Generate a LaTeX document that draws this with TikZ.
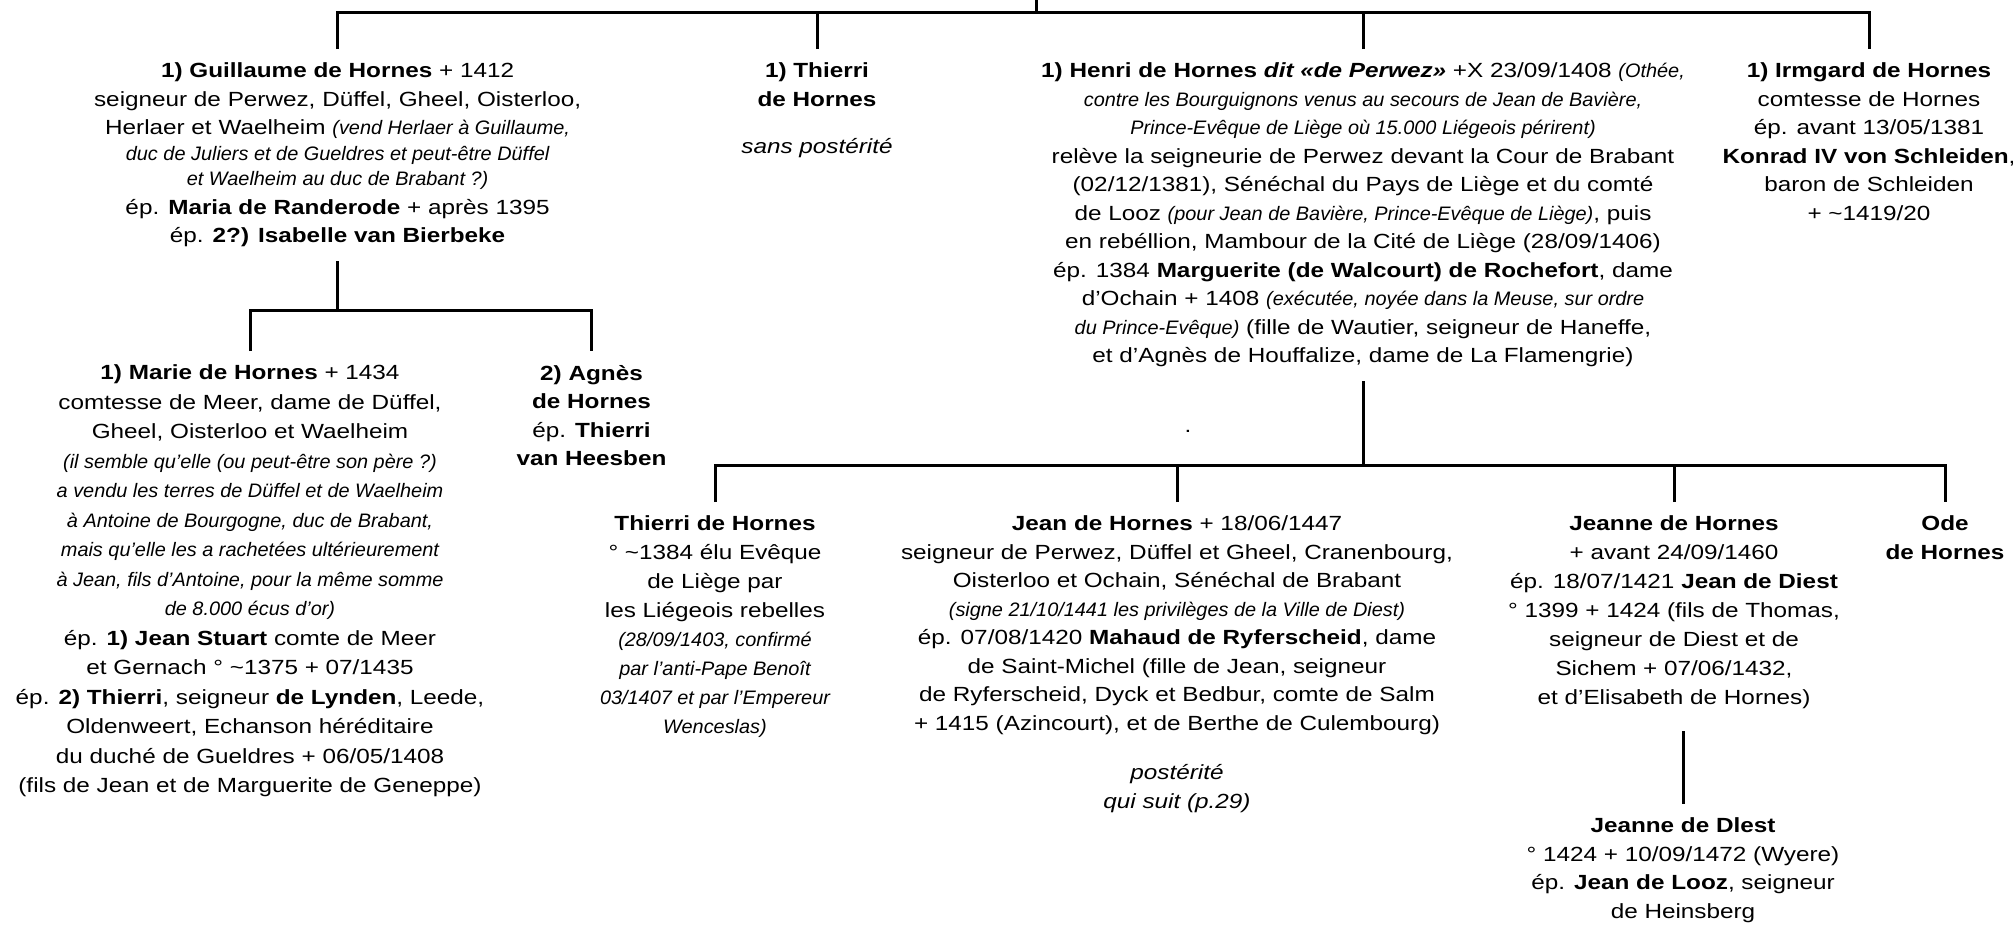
\documentclass[tikz,border=0pt]{standalone}
\usepackage{fontspec}
\setmainfont{Liberation Sans}[FakeStretch=1.185]
\newfontfamily\itfam{Liberation Sans}[FakeStretch=1.02]
\newcommand\smi[1]{{\itfam\fontsize{19.5}{28.5}\selectfont\itshape #1}}
\begin{document}
\begin{tikzpicture}[x=1pt,y=-1pt,
  person/.style={anchor=north, align=center, inner sep=0pt, outer xsep=0pt, outer ysep=14pt,
    font=\fontsize{20.5}{28.5}\selectfont},
  link/.style={line width=3pt}]
\useasboundingbox (0,0) rectangle (2013,924);

\node[person] (g) at (337.6,49) {\textbf{1) Guillaume de Hornes} + 1412\\
seigneur de Perwez, Düffel, Gheel, Oisterloo,\\
Herlaer et Waelheim \smi{(vend Herlaer à Guillaume,}\\[-3pt]
\smi{duc de Juliers et de Gueldres et peut-être Düffel}\\[-3pt]
\smi{et Waelheim au duc de Brabant ?)}\\
ép. \textbf{Maria de Randerode} + après 1395\\
ép. \textbf{2?) Isabelle van Bierbeke}};

\node[person] (t1) at (817,49) {\textbf{1) Thierri}\\
\textbf{de Hornes}\\[19pt]
\textit{sans postérité}};

\node[person] (h) at (1363,49) {\textbf{1) Henri de Hornes \textit{dit «de Perwez»}} +X 23/09/1408 \smi{(Othée,}\\
\smi{contre les Bourguignons venus au secours de Jean de Bavière,}\\
\smi{Prince-Evêque de Liège où 15.000 Liégeois périrent)}\\
relève la seigneurie de Perwez devant la Cour de Brabant\\
(02/12/1381), Sénéchal du Pays de Liège et du comté\\
de Looz \smi{(pour Jean de Bavière, Prince-Evêque de Liège)}, puis\\
en rebéllion, Mambour de la Cité de Liège (28/09/1406)\\
ép. 1384 \textbf{Marguerite (de Walcourt) de Rochefort}, dame\\
d’Ochain + 1408 \smi{(exécutée, noyée dans la Meuse, sur ordre}\\
\smi{du Prince-Evêque)} (fille de Wautier, seigneur de Haneffe,\\
et d’Agnès de Houffalize, dame de La Flamengrie)};

\node[person] (ir) at (1869,49) {\textbf{1) Irmgard de Hornes}\\
comtesse de Hornes\\
ép. avant 13/05/1381\\
\textbf{Konrad IV von Schleiden},\\
baron de Schleiden\\
+ \textasciitilde1419/20};

\node[person, font=\fontsize{20.5}{29.5}\selectfont] (m) at (250,351) {\textbf{1) Marie de Hornes} + 1434\\
comtesse de Meer, dame de Düffel,\\
Gheel, Oisterloo et Waelheim\\
\smi{(il semble qu’elle (ou peut-être son père ?)}\\
\smi{a vendu les terres de Düffel et de Waelheim}\\
\smi{à Antoine de Bourgogne, duc de Brabant,}\\
\smi{mais qu’elle les a rachetées ultérieurement}\\
\smi{à Jean, fils d’Antoine, pour la même somme}\\
\smi{de 8.000 écus d’or)}\\
ép. \textbf{1) Jean Stuart} comte de Meer\\
et Gernach ° \textasciitilde1375 + 07/1435\\
ép. \textbf{2) Thierri}, seigneur \textbf{de Lynden}, Leede,\\
Oldenweert, Echanson héréditaire\\
du duché de Gueldres + 06/05/1408\\
(fils de Jean et de Marguerite de Geneppe)};

\node[person] (a) at (591.5,351) {\textbf{2) Agnès}\\
\textbf{de Hornes}\\
ép. \textbf{Thierri}\\
\textbf{van Heesben}};

\node[person, font=\fontsize{20.5}{29}\selectfont] (t2) at (715,502) {\textbf{Thierri de Hornes}\\
° \textasciitilde1384 élu Evêque\\
de Liège par\\
les Liégeois rebelles\\
\smi{(28/09/1403, confirmé}\\
\smi{par l’anti-Pape Benoît}\\
\smi{03/1407 et par l’Empereur}\\
\smi{Wenceslas)}};

\node[person] (j) at (1177,502) {\textbf{Jean de Hornes} + 18/06/1447\\
seigneur de Perwez, Düffel et Gheel, Cranenbourg,\\
Oisterloo et Ochain, Sénéchal de Brabant\\
\smi{(signe 21/10/1441 les privilèges de la Ville de Diest)}\\
ép. 07/08/1420 \textbf{Mahaud de Ryferscheid}, dame\\
de Saint-Michel (fille de Jean, seigneur\\
de Ryferscheid, Dyck et Bedbur, comte de Salm\\
+ 1415 (Azincourt), et de Berthe de Culembourg)\\[21pt]
\textit{postérité}\\
\textit{qui suit (p.29)}};

\node[person, font=\fontsize{20.5}{29}\selectfont] (je) at (1674,502) {\textbf{Jeanne de Hornes}\\
+ avant 24/09/1460\\
ép. 18/07/1421 \textbf{Jean de Diest}\\
° 1399 + 1424 (fils de Thomas,\\
seigneur de Diest et de\\
Sichem + 07/06/1432,\\
et d’Elisabeth de Hornes)};

\node[person] (o) at (1945,502) {\textbf{Ode}\\
\textbf{de Hornes}};

\node[person] (jd) at (1683,804) {\textbf{Jeanne de Dlest}\\
° 1424 + 10/09/1472 (Wyere)\\
ép. \textbf{Jean de Looz}, seigneur\\
de Heinsberg};

\node[inner sep=0pt, font=\fontsize{20.5}{28.5}\selectfont] (dot) at (1188,431) {.};

\coordinate (rootend) at (1036,0);
\coordinate (root) at (1036,12);
\coordinate (y2) at (0,310);
\coordinate (y3) at (0,465);
\coordinate (jeb) at ([yshift=-8pt]je.south);

\draw[link] (rootend) -- (root);
\draw[link] (g.north) |- (root) -| (ir.north);
\draw[link] (t1.north) -- (t1.north |- root);
\draw[link] (h.north) -- (h.north |- root);

\draw[link] (g.south) -- (g.south |- y2);
\draw[link] (m.north) |- (g.south |- y2) -| (a.north);

\draw[link] (h.south) -- (h.south |- y3);
\draw[link] (t2.north) |- (h.south |- y3) -| (o.north);
\draw[link] (j.north) -- (j.north |- y3);
\draw[link] (je.north) -- (je.north |- y3);

\draw[link] (jd.north |- jeb) -- (jd.north);
\end{tikzpicture}
\end{document}
